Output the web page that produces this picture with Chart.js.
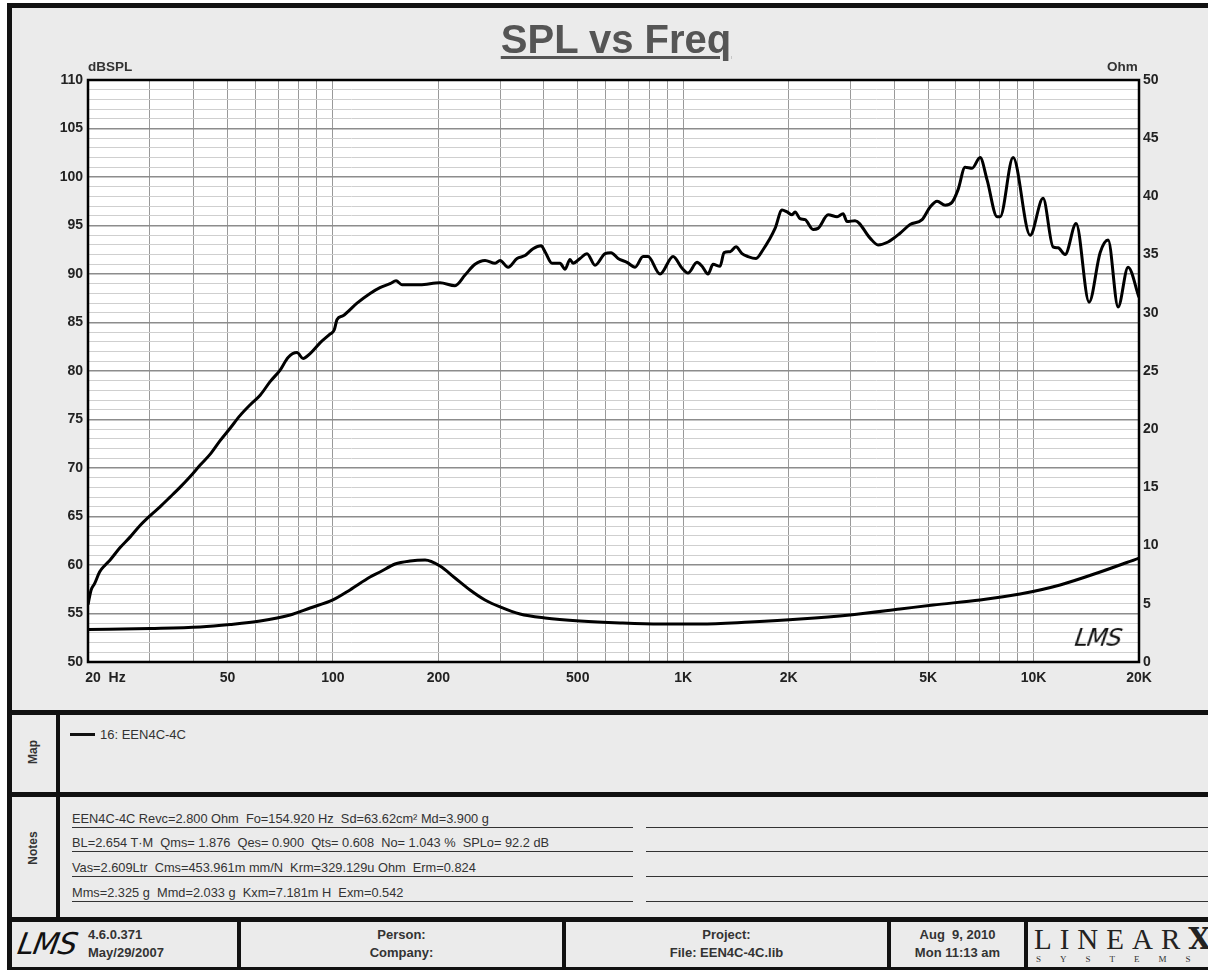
<!DOCTYPE html>
<html>
<head>
<meta charset="utf-8">
<script src="https://cdn.jsdelivr.net/npm/chart.js@4.4.1/dist/chart.umd.min.js"></script>
<style>
  body { margin: 0; width: 1208px; height: 970px; overflow: hidden; background: #fff; position: relative;
         font-family: "Liberation Sans", Arial, sans-serif; color: #333; }
  .abs { position: absolute; }
  .frame { left: 7px; top: 3px; width: 1230px; height: 969px; box-sizing: border-box; border: 5px solid #111; background: #ebebeb; }
  .hsep { left: 7px; width: 1201px; height: 5px; background: #111; }
  .vsep { width: 4px; background: #111; }
  #chart { left: 0; top: 0; }
  .title { left: 366px; width: 500px; top: 17px; text-align: center; font-size: 40px; font-weight: bold; color: #555; text-decoration: underline; text-decoration-thickness: 3px; text-underline-offset: 3px; }
  .axlab { font-size: 13.5px; font-weight: bold; color: #333; }
  .side { font-size: 12px; font-weight: bold; color: #333; transform: translate(-50%, -50%) rotate(-90deg); white-space: nowrap; }
  .note { left: 72px; width: 561px; height: 15px; font-size: 12.8px; white-space: pre; color: #333; border-bottom: 1px solid #333; line-height: 14px; }
  .note2 { left: 646px; width: 570px; height: 15px; border-bottom: 1px solid #333; }
  .foot { font-size: 13px; font-weight: bold; color: #333; text-align: center; line-height: 18px; }
  .lms { font-family: "DejaVu Sans", sans-serif; font-style: italic; color: #111; letter-spacing: -1px; }
</style>
</head>
<body>
<div class="abs frame"></div>
<canvas id="chart" class="abs" width="1208" height="710"></canvas>

<div class="abs title">SPL vs Freq</div>
<div class="abs axlab" style="left:88px; top:59px;">dBSPL</div>
<div class="abs axlab" style="left:1107px; top:59px;">Ohm</div>
<div class="abs lms" style="left:1075px; top:624px; font-size:24px; transform: skewX(-8deg);">LMS</div>

<div class="abs hsep" style="top:710px;"></div>
<div class="abs hsep" style="top:792px;"></div>
<div class="abs hsep" style="top:917px;"></div>
<div class="abs vsep" style="left:56px; top:715px; height:202px;"></div>

<div class="abs side" style="left:33px; top:752px;">Map</div>
<div class="abs" style="left:70px; top:733px; width:25px; height:3px; background:#111;"></div>
<div class="abs" style="left:100px; top:727px; font-size:13px; color:#333;">16: EEN4C-4C</div>

<div class="abs side" style="left:33px; top:848px;">Notes</div>
<div class="abs note" style="top:812px;">EEN4C-4C Revc=2.800 Ohm  Fo=154.920 Hz  Sd=63.62cm² Md=3.900 g</div>
<div class="abs note" style="top:836px;">BL=2.654 T·M  Qms= 1.876  Qes= 0.900  Qts= 0.608  No= 1.043 %  SPLo= 92.2 dB</div>
<div class="abs note" style="top:861px;">Vas=2.609Ltr  Cms=453.961m mm/N  Krm=329.129u Ohm  Erm=0.824</div>
<div class="abs note" style="top:886px;">Mms=2.325 g  Mmd=2.033 g  Kxm=7.181m H  Exm=0.542</div>
<div class="abs note2" style="top:812px;"></div>
<div class="abs note2" style="top:836px;"></div>
<div class="abs note2" style="top:861px;"></div>
<div class="abs note2" style="top:886px;"></div>

<div class="abs vsep" style="left:237px; top:922px; height:48px;"></div>
<div class="abs vsep" style="left:562px; top:922px; height:48px;"></div>
<div class="abs vsep" style="left:887px; top:922px; height:48px;"></div>
<div class="abs vsep" style="left:1024px; top:922px; height:48px;"></div>

<div class="abs lms" style="left:18px; top:926px; font-size:30px; transform: skewX(-10deg);">LMS</div>
<div class="abs foot" style="left:88px; top:926px; text-align:left;">4.6.0.371<br>May/29/2007</div>
<div class="abs foot" style="left:241px; width:321px; top:926px;">Person:<br>Company:</div>
<div class="abs foot" style="left:566px; width:321px; top:926px;">Project:<br>File: EEN4C-4C.lib</div>
<div class="abs foot" style="left:891px; width:133px; top:926px;">Aug&nbsp; 9, 2010<br>Mon 11:13 am</div>
<div class="abs" style="left:1034px; top:924px; font-family:'Liberation Serif',serif; font-size:29px; letter-spacing:8px; color:#222; line-height:30px;">LINEAR<b style="font-family:'DejaVu Serif',serif; font-weight:900;">X</b></div>
<div class="abs" style="left:1036px; top:954px; font-family:'Liberation Serif',serif; font-size:9px; letter-spacing:19px; color:#333;">SYSTEMS</div>

<script>
// SPL curve (left axis, dBSPL)
const splFreq = [20, 20.4, 20.9, 21.6, 22.4, 23.1, 24.7, 26.4, 28.2, 30.1,
  32.1, 34.3, 36.6, 39.1, 41.8, 44.6, 47.6, 50.9, 54.3, 58.0,
  62.0, 66.2, 70.7, 74.5, 79.0, 82.2, 86.1, 91.9, 98.1, 100.8,
  102.8, 106.9, 117.2, 127.7, 136.3, 145.6, 151.5, 157.5, 177.3, 202.2,
  223.2, 238.4, 254.5, 271.8, 290.4, 300.1, 316.3, 335.5, 353.6, 372.7,
  392.9, 403.3, 422.3, 445.1, 460.0, 475.3, 484.8, 507.6, 531.5, 560.2,
  598.3, 622.4, 651.7, 691.3, 728.7, 768.0, 793.7, 858.9, 935.4, 992.4,
  1032, 1095, 1132, 1177, 1217, 1274, 1308, 1361, 1415, 1472,
  1531, 1614, 1690, 1758, 1829, 1915, 1979, 2045, 2086, 2156,
  2228, 2348, 2426, 2592, 2750, 2860, 2936, 3094, 3415, 3599,
  3843, 4159, 4443, 4807, 5067, 5306, 5593, 5856, 6090, 6377,
  6677, 7038, 7369, 7871, 8027, 8742, 9777, 10646, 11370, 11750,
  12304, 13228, 14406, 15489, 16325, 17435, 18616, 20000];
const splDb = [55.9, 57.4, 58.1, 59.3, 60.0, 60.5, 61.8, 62.9, 64.1, 65.1,
  66.0, 67.0, 68.0, 69.1, 70.3, 71.4, 72.8, 74.1, 75.4, 76.5,
  77.5, 78.9, 80.1, 81.4, 81.9, 81.3, 81.8, 82.9, 83.8, 84.2,
  85.3, 85.7, 87.0, 88.0, 88.6, 89.0, 89.3, 88.9, 88.9, 89.1,
  88.8, 89.9, 91.0, 91.4, 91.1, 91.4, 90.7, 91.6, 91.9, 92.6,
  92.9, 92.3, 91.1, 91.1, 90.5, 91.5, 91.1, 91.6, 92.1, 90.9,
  92.1, 92.2, 91.6, 91.2, 90.7, 91.8, 91.8, 90.0, 91.8, 90.6,
  90.1, 91.2, 90.8, 90.0, 91.0, 90.8, 92.2, 92.3, 92.8, 92.1,
  91.8, 91.6, 92.5, 93.5, 94.7, 96.6, 96.4, 96.1, 96.4, 95.7,
  95.6, 94.6, 94.7, 96.1, 95.9, 96.2, 95.4, 95.5, 93.7, 93.0,
  93.3, 94.2, 95.1, 95.6, 96.9, 97.5, 97.1, 97.4, 98.7, 101.0,
  100.9, 102.0, 99.7, 95.9, 95.9, 102.0, 94.0, 97.8, 92.8, 92.7,
  92.0, 95.2, 87.1, 92.2, 93.5, 86.6, 90.7, 87.6];

// impedance curve (right axis, Ohm)
const zFreq = [20, 30.1, 41.8, 50.9, 62.0, 75.5, 86.1, 100, 111.9, 127.7,
  136.3, 150.5, 166.1, 183.3, 202.2, 223.2, 246.3, 271.8, 300.1, 342.2,
  403.3, 507.6, 660.3, 858.9, 1117, 1552, 2156, 2994, 4159, 5168,
  7038, 9153, 11906, 15489, 20000];
const zOhm = [2.79, 2.88, 3.01, 3.22, 3.52, 4.04, 4.64, 5.33, 6.19, 7.30,
  7.73, 8.42, 8.68, 8.76, 8.25, 7.22, 6.19, 5.33, 4.73, 4.12,
  3.78, 3.52, 3.35, 3.26, 3.26, 3.44, 3.69, 4.04, 4.55, 4.90,
  5.33, 5.84, 6.62, 7.73, 8.93];

// log grid lines and labelled frequencies
const gridFreqs = [20, 30, 40, 50, 60, 70, 80, 90, 100, 200, 300, 400, 500, 600, 700, 800, 900,
  1000, 2000, 3000, 4000, 5000, 6000, 7000, 8000, 9000, 10000, 20000];
const freqLabels = { 20: '         20  Hz', 50: '50', 100: '100', 200: '200', 500: '500',
  1000: '1K', 2000: '2K', 5000: '5K', 10000: '10K', 20000: '20K' };

const tickFont = { family: '"Liberation Sans", Arial, sans-serif', size: 14, weight: 'bold' };

// white plot area and black frame round it
const plotFrame = {
  id: 'plotFrame',
  beforeDraw(chart) {
    const { ctx, chartArea: a } = chart;
    ctx.save();
    ctx.fillStyle = '#fff';
    ctx.fillRect(a.left, a.top, a.width, a.height);
    ctx.restore();
  },
  afterDraw(chart) {
    const { ctx, chartArea: a } = chart;
    ctx.save();
    ctx.lineWidth = 2.5;
    ctx.strokeStyle = '#000';
    ctx.strokeRect(a.left, a.top, a.width, a.height);
    ctx.restore();
  }
};

new Chart(document.getElementById('chart'), {
  type: 'line',
  data: {
    datasets: [
      {
        label: 'SPL',
        data: splFreq.map((f, i) => ({ x: f, y: splDb[i] })),
        yAxisID: 'y',
        borderColor: '#000',
        borderWidth: 3,
        pointRadius: 0,
        cubicInterpolationMode: 'monotone'
      },
      {
        label: 'Impedance',
        data: zFreq.map((f, i) => ({ x: f, y: zOhm[i] })),
        yAxisID: 'y1',
        borderColor: '#000',
        borderWidth: 3,
        pointRadius: 0,
        cubicInterpolationMode: 'monotone'
      }
    ]
  },
  options: {
    responsive: false,
    animation: false,
    devicePixelRatio: 1,
    layout: { padding: { top: 80, left: 0, right: 0, bottom: 0 } },
    plugins: { legend: { display: false }, tooltip: { enabled: false } },
    scales: {
      x: {
        type: 'logarithmic',
        min: 20,
        max: 20000,
        afterBuildTicks: (s) => { s.ticks = gridFreqs.map((v) => ({ value: v })); },
        afterFit: (s) => { s.height = 48; },
        ticks: {
          autoSkip: false, maxRotation: 0, padding: 8, font: tickFont, color: '#222',
          callback: (v) => freqLabels[v] || ''
        },
        grid: { color: '#999', lineWidth: 1, drawTicks: false },
        border: { color: '#000', width: 2 }
      },
      y: {
        position: 'left',
        min: 50,
        max: 110,
        afterFit: (s) => { s.width = 88; },
        ticks: {
          stepSize: 1, autoSkip: false, padding: 5, font: tickFont, color: '#222',
          callback: (v) => (v % 5 === 0 ? String(v) : '')
        },
        grid: {
          drawTicks: false,
          color: (ctx) => (ctx.tick && ctx.tick.value % 5 === 0 ? '#8c8c8c' : '#cfcfcf'),
          lineWidth: (ctx) => (ctx.tick && ctx.tick.value % 5 === 0 ? 1.5 : 1)
        },
        border: { color: '#000', width: 2 }
      },
      y1: {
        position: 'right',
        min: 0,
        max: 50,
        afterFit: (s) => { s.width = 69; },
        ticks: { stepSize: 5, padding: 4, font: tickFont, color: '#222' },
        grid: { display: false, drawTicks: false },
        border: { color: '#000', width: 2 }
      }
    }
  },
  plugins: [plotFrame]
});
</script>
</body>
</html>
